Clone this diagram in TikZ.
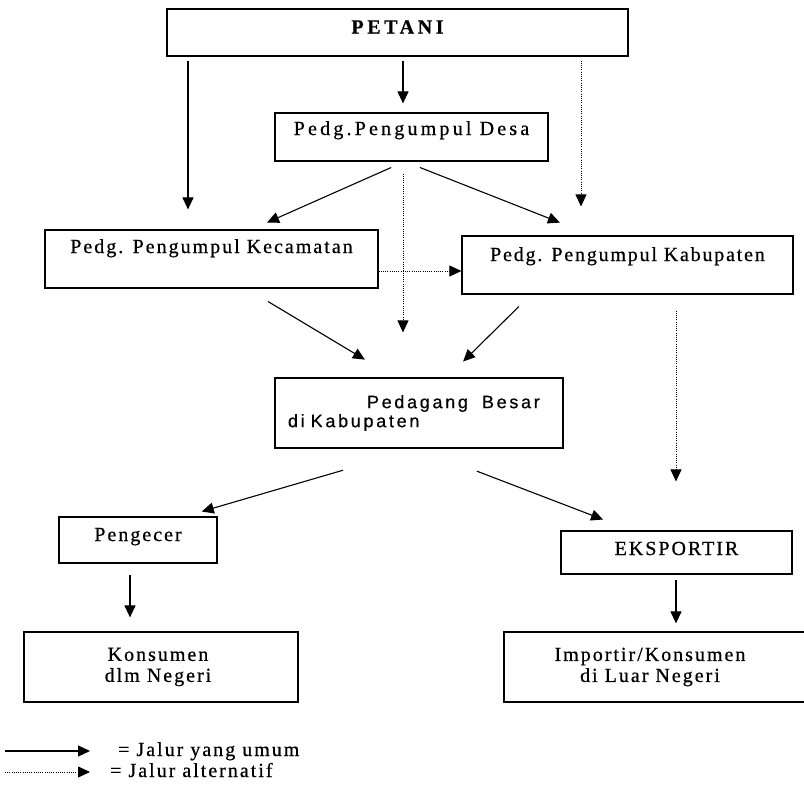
\documentclass[tikz,border=0pt]{standalone}
\usepackage{fontspec}
\setmainfont{Liberation Serif}
\newfontfamily\lblfont{Liberation Serif}[LetterSpace=10, FakeBold=0.6]
\newfontfamily\lblsans{Liberation Sans}[LetterSpace=15, FakeBold=0.6]
\usetikzlibrary{arrows.meta}

\begin{document}
\begin{tikzpicture}[x=1pt, y=-1pt,
    box/.style={draw, line width=1.2pt, inner sep=0pt, font=\lblfont\fontsize{20}{21}\selectfont},
    tall/.style={text height=13pt, text depth=#1},
    umum/.style={->, line width=1.1pt},
    alt/.style={->, line width=0.8pt, dash pattern=on 0.8pt off 1.4pt},
    >={Triangle[width=11pt,length=12pt]}]

    \useasboundingbox (0,0) rectangle (804,785);

    % boxes
    \node[box, tall=11pt, minimum width=461pt, minimum height=47pt] (petani) at (397.5,32.5) {\bfseries\addfontfeature{LetterSpace=18}PETANI};
    \node[box, tall=17pt, minimum width=273pt, minimum height=48pt] (desa) at (411.5,137) {\addfontfeature{LetterSpace=16}Pedg.Pengumpul Desa};
    \node[box, tall=25pt, minimum width=333pt, minimum height=58pt] (kec) at (211.5,259) {Pedg. Pengumpul Kecamatan};
    \node[box, tall=21pt, minimum width=331pt, minimum height=58pt] (kab) at (627.5,265) {\addfontfeature{LetterSpace=9}Pedg. Pengumpul Kabupaten};
    \node[box, font=\lblsans\fontsize{18}{19}\selectfont, align=left, text width=262pt, inner xsep=13pt, minimum height=70pt] (besar) at (419,413) {\hspace*{79pt}Pedagang\hspace{14pt}Besar\\di Kabupaten};
    \node[box, tall=11pt, minimum width=158pt, minimum height=46pt] (pengecer) at (138,540) {Pengecer};
    \node[box, tall=8pt, minimum width=231pt, minimum height=43pt] (eksportir) at (676.5,552.5) {EKSPORTIR};
    \node[box, align=center, minimum width=274pt, minimum height=70pt] (konsumen) at (161,667) {\hspace*{-6pt}Konsumen\\\hspace*{-6pt}dlm Negeri};
    \node[box, align=center, minimum width=304pt, minimum height=70pt] (importir) at (656,667) {\hspace*{-12pt}Importir/Konsumen\\\hspace*{-12pt}di Luar Negeri};

    % jalur umum
    \draw[umum, shorten <=4pt, shorten >=9pt] ([xshift=5.5pt]petani.south) -- ([xshift=-8.5pt]desa.north);
    \draw[umum, shorten <=4pt, shorten >=20pt] ([xshift=-209.5pt]petani.south) -- ([xshift=-23.5pt]kec.north);
    \draw[umum, shorten <=14.6pt, shorten >=17pt] ([xshift=-7pt]desa.south) -- ([xshift=40pt]kec.north);
    \draw[umum, shorten <=16pt, shorten >=35pt] ([xshift=-6.5pt]desa.south) -- ([xshift=-35pt]kab.north);
    \draw[umum, shorten <=25pt, shorten >=34.6pt] ([xshift=35pt]kec.south) -- ([xshift=-24.4pt]besar.north);
    \draw[umum, shorten <=17pt, shorten >=22.6pt] ([xshift=-96.5pt]kab.south) -- ([xshift=28pt]besar.north);
    \draw[umum, shorten <=77pt, shorten >=17.5pt] ([xshift=-2pt]besar.south) -- ([xshift=47pt]pengecer.north);
    \draw[umum, shorten <=63pt, shorten >=30.4pt] ([xshift=-1pt]besar.south) -- ([xshift=-45pt]eksportir.north);
    \draw[umum, shorten <=11pt, shorten >=14pt] ([xshift=-8pt]pengecer.south) -- ([xshift=-31pt]konsumen.north);
    \draw[umum, shorten <=5pt, shorten >=8pt] ([xshift=-0.5pt]eksportir.south) -- ([xshift=20pt]importir.north);

    % jalur alternatif
    \draw[alt, shorten <=4pt, shorten >=29pt] ([xshift=183.5pt]petani.south) -- ([xshift=-46.5pt]kab.north);
    \draw[alt, shorten <=12pt, shorten >=45pt] ([xshift=-8.5pt]desa.south) -- ([xshift=-16pt]besar.north);
    \draw[alt] ([yshift=-12pt]kec.east) -- ([yshift=-6pt]kab.west);
    \draw[alt, shorten <=16pt, shorten >=49pt] ([xshift=48.5pt]kab.south) -- ([xshift=-0.5pt]eksportir.north);

    % keterangan
    \coordinate (umumA) at (5,751);
    \coordinate (umumB) at (90,751);
    \coordinate (altA) at (5,772);
    \coordinate (altB) at (90,772);
    \draw[umum] (umumA) -- (umumB);
    \draw[alt] (altA) -- (altB);
    \node[anchor=base west, inner sep=0pt, font=\lblfont\fontsize{20}{21}\selectfont] (umumlbl) at (118,756) {= Jalur yang umum};
    \node[anchor=base west, inner sep=0pt, font=\lblfont\fontsize{20}{21}\selectfont] (altlbl) at (110,777) {= Jalur alternatif};
\end{tikzpicture}
\end{document}
